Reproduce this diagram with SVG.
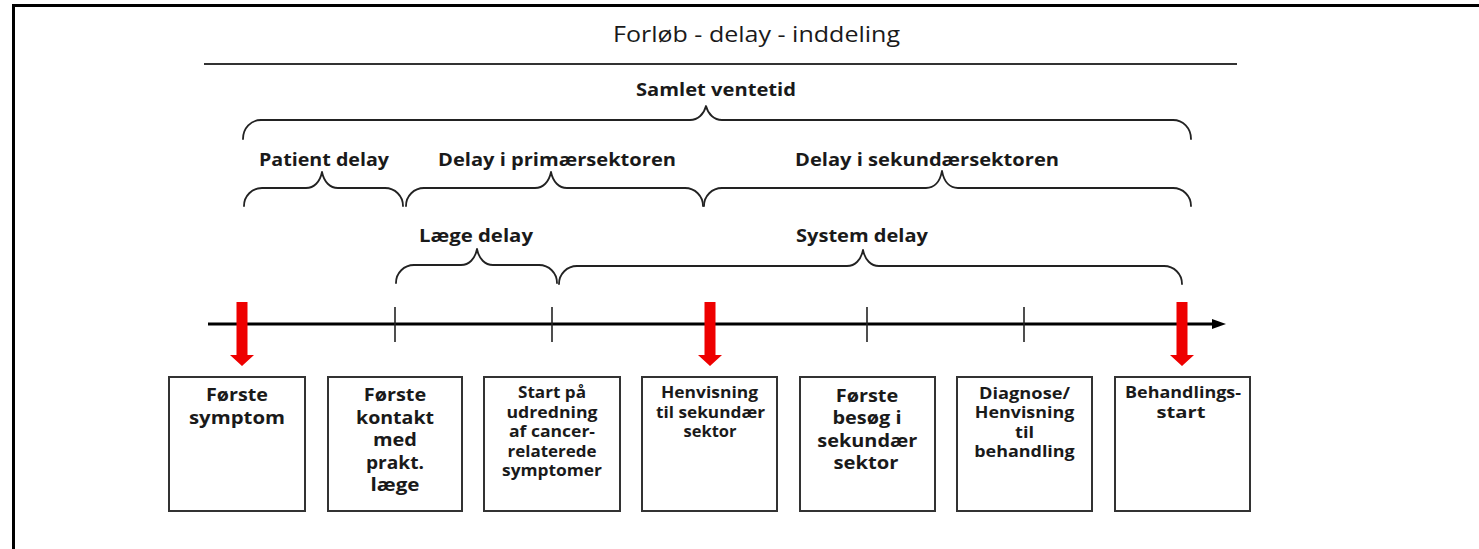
<svg xmlns="http://www.w3.org/2000/svg" width="1479" height="549" viewBox="0 0 1479 549">
<defs>
<style>
.frame{fill:none;stroke:#000;stroke-width:3}
.rule{stroke:#333;stroke-width:2}
.brace{fill:none;stroke:#222;stroke-width:1.8;stroke-linecap:round;stroke-linejoin:round}
.axis{stroke:#000;stroke-width:3}
.tick{stroke:#222;stroke-width:1.6}
.red{fill:#ee0000}
.box{fill:#fff;stroke:#333;stroke-width:2}
.title{font-family:"Open Sans","Liberation Sans",sans-serif;font-size:21px;fill:#1a1a1a;text-anchor:middle}
.lbl{font-family:"Open Sans","Liberation Sans",sans-serif;font-size:18.5px;font-weight:700;fill:#1a1a1a;text-anchor:middle}
.big{font-family:"Open Sans","Liberation Sans",sans-serif;font-size:17px;font-weight:700;fill:#1a1a1a;text-anchor:middle}
.sm{font-family:"Open Sans","Liberation Sans",sans-serif;font-size:15.5px;font-weight:700;fill:#1a1a1a;text-anchor:middle}
</style>
</defs>
<rect width="1479" height="549" fill="#fff"/>
<path class="frame" d="M13.5,549 V5.5 H1479"/>
<g id="title">
<text class="title" x="756.5" y="42" textLength="287" lengthAdjust="spacingAndGlyphs">Forløb - delay - inddeling</text>
<line class="rule" x1="204" y1="64" x2="1237" y2="64"/>
</g>
<g id="labels">
<text class="lbl" x="716" y="96" textLength="160" lengthAdjust="spacingAndGlyphs">Samlet ventetid</text>
<text class="lbl" x="324" y="166" textLength="130" lengthAdjust="spacingAndGlyphs">Patient delay</text>
<text class="lbl" x="557" y="166" textLength="238" lengthAdjust="spacingAndGlyphs">Delay i primærsektoren</text>
<text class="lbl" x="927" y="166" textLength="264" lengthAdjust="spacingAndGlyphs">Delay i sekundærsektoren</text>
<text class="lbl" x="476" y="242" textLength="114" lengthAdjust="spacingAndGlyphs">Læge delay</text>
<text class="lbl" x="862" y="242" textLength="132" lengthAdjust="spacingAndGlyphs">System delay</text>
</g>
<g id="connectors">
<path class="brace" d="M243,139 C243,128 251,120 261,120 L690,120 C698,120 704,114 706,106 C708,114 714,120 722,120 L1173,120 C1183,120 1191,128 1191,139"/>
<path class="brace" d="M244,206 C244,196 252,188 262,188 L306,188 C314,188 320,182 322,172 C324,182 330,188 338,188 L385,188 C395,188 403,196 403,206"/>
<path class="brace" d="M406,206 C406,196 414,188 424,188 L535,188 C543,188 549,182 551,172 C553,182 559,188 567,188 L685,188 C695,188 703,196 703,206"/>
<path class="brace" d="M704,206 C704,196 712,188 722,188 L926,188 C934,188 940,182 942,171 C944,182 950,188 958,188 L1173,188 C1183,188 1191,196 1191,206"/>
<path class="brace" d="M396,283 C396,273 404,265 414,265 L461,265 C469,265 475,259 477,249 C479,259 485,265 493,265 L539,265 C549,265 557,273 557,283"/>
<path class="brace" d="M559,284 C559,274 567,266 577,266 L847,266 C855,266 861,260 863,250 C865,260 871,266 879,266 L1164,266 C1174,266 1182,274 1182,284"/>
<g id="timeline">
<line class="axis" x1="208" y1="324" x2="1214" y2="324"/>
<polygon points="1212,319 1226,324 1212,329" fill="#000"/>
<line class="tick" x1="395" y1="307" x2="395" y2="342"/>
<line class="tick" x1="552" y1="307" x2="552" y2="342"/>
<line class="tick" x1="867" y1="307" x2="867" y2="342"/>
<line class="tick" x1="1024" y1="307" x2="1024" y2="342"/>
</g>
<path class="red" d="M236.5,302 H247.5 V355 H254 L242,366 L230,355 H236.5 Z"/>
<path class="red" d="M704.5,302 H715.5 V355 H722 L710,366 L698,355 H704.5 Z"/>
<path class="red" d="M1176.5,302 H1187.5 V355 H1194 L1182,366 L1170,355 H1176.5 Z"/>
</g>
<g id="node-forste-symptom">
<rect class="box" x="169" y="377" width="136" height="134"/>
<text class="big" x="237" y="401" textLength="62" lengthAdjust="spacingAndGlyphs">Første</text>
<text class="big" x="237" y="423.5" textLength="96" lengthAdjust="spacingAndGlyphs">symptom</text>
</g>
<g id="node-forste-kontakt">
<rect class="box" x="328" y="377" width="134" height="134"/>
<text class="big" x="395" y="401" textLength="62.5" lengthAdjust="spacingAndGlyphs">Første</text>
<text class="big" x="395" y="423.5" textLength="78" lengthAdjust="spacingAndGlyphs">kontakt</text>
<text class="big" x="395" y="446" textLength="44" lengthAdjust="spacingAndGlyphs">med</text>
<text class="big" x="395" y="468.5" textLength="58" lengthAdjust="spacingAndGlyphs">prakt.</text>
<text class="big" x="395" y="491" textLength="49" lengthAdjust="spacingAndGlyphs">læge</text>
</g>
<g id="node-start-udredning">
<rect class="box" x="484" y="377" width="136" height="134"/>
<text class="sm" x="552" y="398" textLength="68" lengthAdjust="spacingAndGlyphs">Start på</text>
<text class="sm" x="552" y="417.5" textLength="91" lengthAdjust="spacingAndGlyphs">udredning</text>
<text class="sm" x="552" y="437" textLength="86" lengthAdjust="spacingAndGlyphs">af cancer-</text>
<text class="sm" x="552" y="456.5" textLength="89" lengthAdjust="spacingAndGlyphs">relaterede</text>
<text class="sm" x="552" y="476" textLength="100" lengthAdjust="spacingAndGlyphs">symptomer</text>
</g>
<g id="node-henvisning">
<rect class="box" x="642" y="377" width="135" height="134"/>
<text class="sm" x="709.5" y="398" textLength="97" lengthAdjust="spacingAndGlyphs">Henvisning</text>
<text class="sm" x="710.5" y="417.5" textLength="109" lengthAdjust="spacingAndGlyphs">til sekundær</text>
<text class="sm" x="710" y="437" textLength="53" lengthAdjust="spacingAndGlyphs">sektor</text>
</g>
<g id="node-forste-besog">
<rect class="box" x="800" y="377" width="135" height="134"/>
<text class="big" x="867" y="401.5" textLength="62.5" lengthAdjust="spacingAndGlyphs">Første</text>
<text class="big" x="867" y="424" textLength="69" lengthAdjust="spacingAndGlyphs">besøg i</text>
<text class="big" x="867.3" y="446.5" textLength="100" lengthAdjust="spacingAndGlyphs">sekundær</text>
<text class="big" x="866" y="469" textLength="65" lengthAdjust="spacingAndGlyphs">sektor</text>
</g>
<g id="node-diagnose">
<rect class="box" x="957" y="377" width="135" height="134"/>
<text class="sm" x="1024.5" y="398.5" textLength="91" lengthAdjust="spacingAndGlyphs">Diagnose/</text>
<text class="sm" x="1024.5" y="418" textLength="99.5" lengthAdjust="spacingAndGlyphs">Henvisning</text>
<text class="sm" x="1024.5" y="437.5" textLength="19" lengthAdjust="spacingAndGlyphs">til</text>
<text class="sm" x="1024.5" y="457" textLength="100.5" lengthAdjust="spacingAndGlyphs">behandling</text>
</g>
<g id="node-behandlingsstart">
<rect class="box" x="1115" y="377" width="135" height="134"/>
<text class="sm" x="1183" y="398" textLength="116" lengthAdjust="spacingAndGlyphs">Behandlings-</text>
<text class="sm" x="1181" y="417.5" textLength="49" lengthAdjust="spacingAndGlyphs">start</text>
</g>
</svg>
